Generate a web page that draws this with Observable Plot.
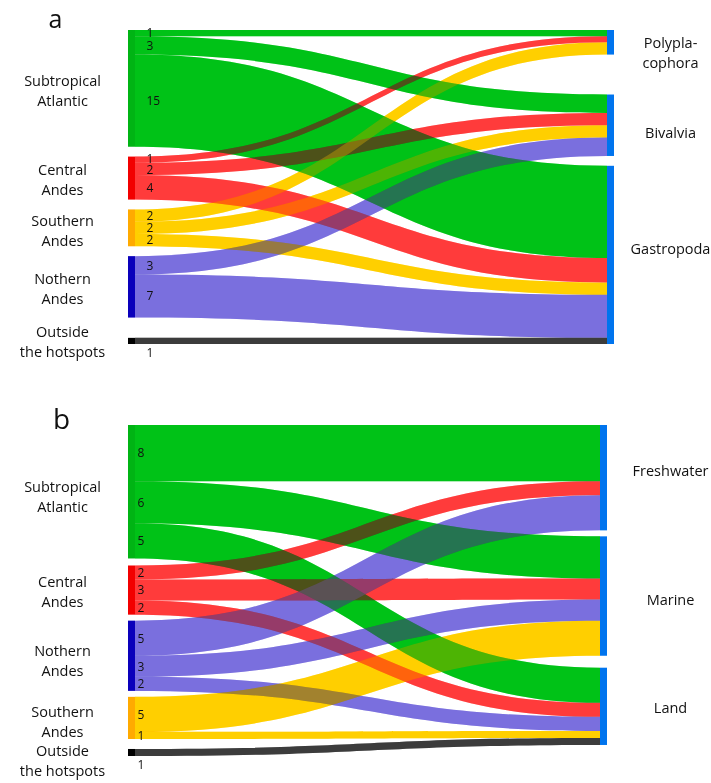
<!DOCTYPE html>
<html>
<head>
<meta charset="utf-8">
<script src="https://cdn.jsdelivr.net/npm/d3@7"></script>
<script src="https://cdn.jsdelivr.net/npm/@observablehq/plot@0.6"></script>
<style>
  body { margin: 0; background: #fff; }
  #chart svg { display: block; }
  .links path { mix-blend-mode: multiply; }
</style>
</head>
<body>
<div id="chart"></div>
<script>
// ---------- DATA ----------
// Panel a: hotspot -> class
const sourcesA = ["Subtropical Atlantic", "Central Andes", "Southern Andes", "Nothern Andes", "Outside the hotspots"];
const targetsA = ["Polyplacophora", "Bivalvia", "Gastropoda"];
// rows = sources, columns = targets
const valuesA = [
  [1, 3, 15],
  [1, 2, 4],
  [2, 2, 2],
  [0, 3, 7],
  [0, 0, 1]
];

// Panel b: hotspot -> habitat
const sourcesB = ["Subtropical Atlantic", "Central Andes", "Nothern Andes", "Southern Andes", "Outside the hotspots"];
const targetsB = ["Freshwater", "Marine", "Land"];
const valuesB = [
  [8, 6, 5],
  [2, 3, 2],
  [5, 3, 2],
  [0, 5, 1],
  [0, 0, 1]
];

// Display labels
const sourceLabels = {
  "Subtropical Atlantic": "Subtropical\nAtlantic",
  "Central Andes": "Central\nAndes",
  "Southern Andes": "Southern\nAndes",
  "Nothern Andes": "Nothern\nAndes",
  "Outside the hotspots": "Outside\nthe hotspots"
};
const targetLabels = {
  "Polyplacophora": "Polypla-\ncophora",
  "Bivalvia": "Bivalvia",
  "Gastropoda": "Gastropoda",
  "Freshwater": "Freshwater",
  "Marine": "Marine",
  "Land": "Land"
};

// ---------- STYLE ----------
const linkColor = {
  "Subtropical Atlantic": "#00c218",
  "Central Andes": "#ff3c3c",
  "Southern Andes": "#ffcf00",
  "Nothern Andes": "#7a6fdf",
  "Outside the hotspots": "#3d3d3d"
};
const nodeColor = {
  "Subtropical Atlantic": "#00b414",
  "Central Andes": "#f20000",
  "Southern Andes": "#ffaa00",
  "Nothern Andes": "#0a00bb",
  "Outside the hotspots": "#000000"
};
const targetColor = "#0074ee";
const FONT = "'Open Sans', 'Noto Sans', sans-serif";

// ---------- LAYOUT (gaps in value units, offsets in px) ----------
const panelA = {
  letter: "a", sources: sourcesA, targets: targetsA, values: valuesA,
  gapsL: [1.6, 1.6, 1.6, 3.3], gapsR: [6.5, 1.6],
  height: 380, marginTop: 30, marginBottom: 36, marginRight: 97,
  numDx: 18, targetDx: 56, letterDx: -73, letterDy: -3, letterSize: 25,
  sourceDy: [1, 0, 1, 0, -1], targetDy: [9, 6, -8]
};
const panelB = {
  letter: "b", sources: sourcesB, targets: targetsB, values: valuesB,
  gapsL: [1.0, 0.85, 0.85, 1.42], gapsR: [0.85, 1.7],
  height: 403, marginTop: 45, marginBottom: 27, marginRight: 104,
  numDx: 9, targetDx: 63, letterDx: -67, letterDy: 3, letterSize: 28,
  sourceDy: [3, 0, 3, 2, 7], targetDy: [-9, 2, 0]
};
const NUM_SPACING = 11; // minimum px between stacked value labels

function sankey(p) {
  const {sources, targets, values, gapsL, gapsR} = p;
  let y = 0;
  const sNodes = sources.map((name, i) => {
    if (i > 0) y += gapsL[i - 1];
    const n = {name, i, y0: y, y1: y + d3.sum(values[i])};
    y = n.y1;
    return n;
  });
  const extL = y;
  y = 0;
  const tNodes = targets.map((name, j) => {
    if (j > 0) y += gapsR[j - 1];
    const n = {name, j, y0: y, y1: y + d3.sum(values, r => r[j])};
    y = n.y1;
    return n;
  });
  const extR = y;
  const sOff = sNodes.map(n => n.y0);
  const tOff = tNodes.map(n => n.y0);
  const links = [];
  sources.forEach((s, i) => {
    targets.forEach((t, j) => {
      const v = values[i][j];
      if (!v) return;
      links.push({
        id: s + "→" + t, source: s, si: i, target: t, value: v, last: i === sources.length - 1,
        sy0: sOff[i], sy1: sOff[i] + v, ty0: tOff[j], ty1: tOff[j] + v,
        ly: sOff[i] + v / 2
      });
      sOff[i] += v;
      tOff[j] += v;
    });
  });
  return {sNodes, tNodes, links, ext: Math.max(extL, extR)};
}

function panel(p) {
  const W = 711, ML = 128;
  const L = sankey(p);
  const nodeW = 7 / (W - ML - p.marginRight);
  // spread crowded value labels of the same source
  const k = (p.height - p.marginTop - p.marginBottom) / L.ext;
  const minSep = NUM_SPACING / k;
  d3.groups(L.links, l => l.si).forEach(([, ls]) => {
    for (let i = 1; i < ls.length; ++i) {
      const d = ls[i].ly - ls[i - 1].ly;
      if (d < minSep) {
        ls[i - 1].ly -= (minSep - d) / 2;
        ls[i].ly += (minSep - d) / 2;
      }
    }
  });
  const rows = L.links.flatMap(l => [
    {id: l.id, color: linkColor[l.source], x: nodeW, y1: l.sy0, y2: l.sy1},
    {id: l.id, color: linkColor[l.source], x: 1 - nodeW, y1: l.ty0, y2: l.ty1}
  ]);
  const linkOpts = {x: "x", y1: "y1", y2: "y2", z: "id", fill: "color", curve: "bump-x"};
  const textMarks = [];
  L.sNodes.forEach(n => textMarks.push(
    Plot.text([n], {x: 0, y: d => (d.y0 + d.y1) / 2, text: d => sourceLabels[d.name],
      dx: -66, dy: p.sourceDy[n.i], textAnchor: "middle", fontSize: 14.5, lineHeight: 1.38, fill: "#111"})));
  L.tNodes.forEach(n => textMarks.push(
    Plot.text([n], {x: 1, y: d => (d.y0 + d.y1) / 2, text: d => targetLabels[d.name],
      dx: p.targetDx, dy: p.targetDy[n.j], textAnchor: "middle", fontSize: 14.5, lineHeight: 1.38, fill: "#111"})));
  return Plot.plot({
    width: W, height: p.height,
    marginLeft: ML, marginRight: p.marginRight,
    marginTop: p.marginTop, marginBottom: p.marginBottom,
    x: {domain: [0, 1], axis: null},
    y: {domain: [0, L.ext], reverse: true, axis: null},
    color: {type: "identity"},
    style: {fontFamily: FONT, background: "white"},
    marks: [
      Plot.areaY(rows, {...linkOpts, className: "links"}),
      Plot.areaY(rows, {...linkOpts, fillOpacity: 0.3}),
      Plot.rect(L.sNodes, {x1: 0, x2: nodeW, y1: "y0", y2: "y1", fill: d => nodeColor[d.name]}),
      Plot.rect(L.tNodes, {x1: 1 - nodeW, x2: 1, y1: "y0", y2: "y1", fill: targetColor}),
      ...textMarks,
      Plot.text(L.links.filter(l => !l.last), {x: 0, y: "ly", text: "value",
        dx: p.numDx, textAnchor: "start", fontSize: 12, fill: "#111"}),
      Plot.text(L.links.filter(l => l.last), {x: 0, y: "ly", text: "value",
        dx: p.numDx, dy: 12, textAnchor: "start", fontSize: 12, fill: "#111"}),
      Plot.text([p.letter], {frameAnchor: "top-left", text: d => d, dx: p.letterDx, dy: p.letterDy,
        textAnchor: "middle", lineAnchor: "bottom", fontSize: p.letterSize, fill: "#111"})
    ]
  });
}

const chart = document.getElementById("chart");
chart.append(panel(panelA));
chart.append(panel(panelB));
</script>
</body>
</html>
